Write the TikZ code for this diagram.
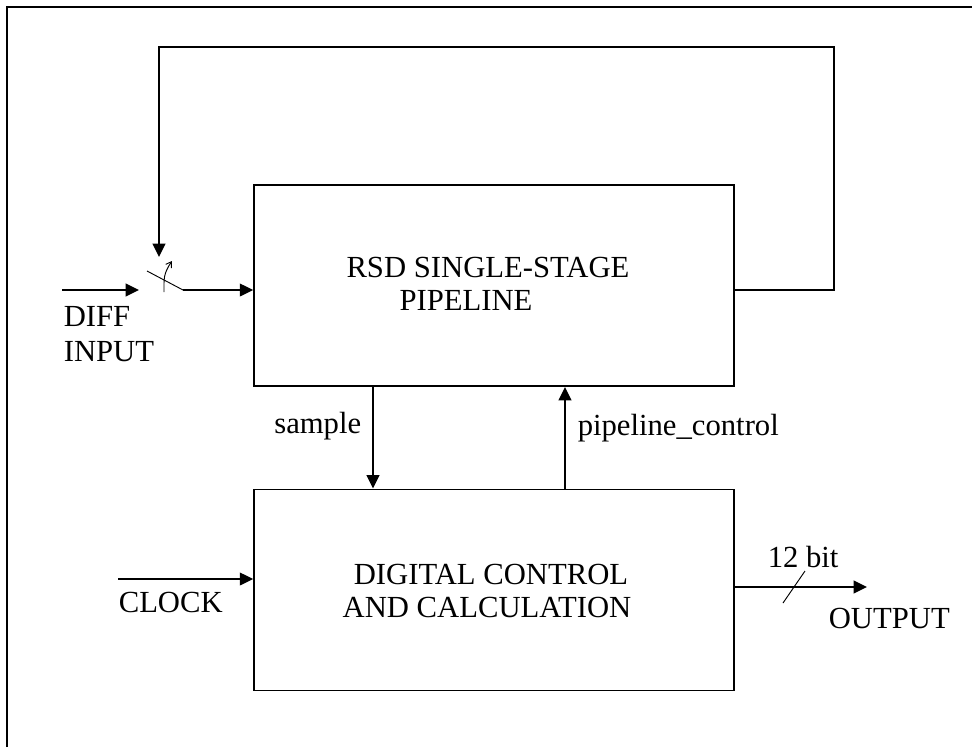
\documentclass[tikz,border=0pt]{standalone}
\usepackage{fontspec}
\setmainfont{Liberation Serif}
\usetikzlibrary{arrows.meta}
\begin{document}
\begin{tikzpicture}[x=0.75pt,y=-0.75pt, line width=1.2pt,
  arr/.style={-{Triangle[length=10pt,width=9.5pt]}},
  thinline/.style={line width=0.7pt},
  lbl/.style={inner sep=0pt, font=\fontsize{23}{27}\selectfont},
  blk/.style={draw, line width=1.2pt, inner sep=0pt, minimum width=360pt, minimum height=151pt}]
\useasboundingbox (0,0) rectangle (972,747);
% outer frame (cropped)
\draw (7,747) -- (7,7) -- (972,7);
% blocks
\node[blk] (rsd) at (494,285.5) {};
\node[blk] (dcc) at (494,590) {};
% block texts
\node[lbl, anchor=base] (t1) at (488,277) {RSD SINGLE-STAGE};
\node[lbl, anchor=base] (t2) at (466,310) {PIPELINE};
\node[lbl, anchor=base] (t3) at (491,584) {DIGITAL CONTROL};
\node[lbl, anchor=base] (t4) at (487,617) {AND CALCULATION};
% coordinates
\coordinate (swo) at (183,290);
\coordinate (swb) at (147,271);
\coordinate (fbc) at (834,47);
\coordinate (fbe) at (159,257);
\coordinate (din) at (62,290);
\coordinate (dend) at (139,290);
\coordinate (sx) at (373,0);
\coordinate (px) at (565,0);
\coordinate (clk) at (118,579);
\coordinate (out) at (867,587);
% input and switch
\draw[arr] (din) -- (dend);
\draw[thinline] (swb) -- (swo);
\draw[thinline, -{Straight Barb[length=4pt,width=5pt]}] (164,292) -- (164,283) .. controls (164,273) and (168,267) .. (172,261);
\draw[arr] (swo) -- (swo -| rsd.west);
% feedback
\draw[arr] (rsd.east |- swo) -| (fbc) -| (fbe);
% sample / pipeline_control
\draw[arr] (rsd.south -| sx) -- (dcc.north -| sx);
\draw[arr] (dcc.north -| px) -- (rsd.south -| px);
% clock / output
\draw[arr] (clk) -- (clk -| dcc.west);
\draw[arr] (out -| dcc.east) -- (out);
\draw[thinline] (783,603) -- (805,571);
% labels
\node[lbl, anchor=base west] (ldiff) at (63,326) {DIFF};
\node[lbl, anchor=base west] (linput) at (63,361) {INPUT};
\node[lbl, anchor=base east] (lsample) at (362,433) {sample};
\node[lbl, anchor=base west] (lpc) at (577,435) {pipeline\_control};
\node[lbl, anchor=base west] (lclk) at (118,612) {CLOCK};
\node[lbl, anchor=base west] (lbit) at (767,567) {12 bit};
\node[lbl, anchor=base west] (lout) at (828,628) {OUTPUT};
\end{tikzpicture}
\end{document}
